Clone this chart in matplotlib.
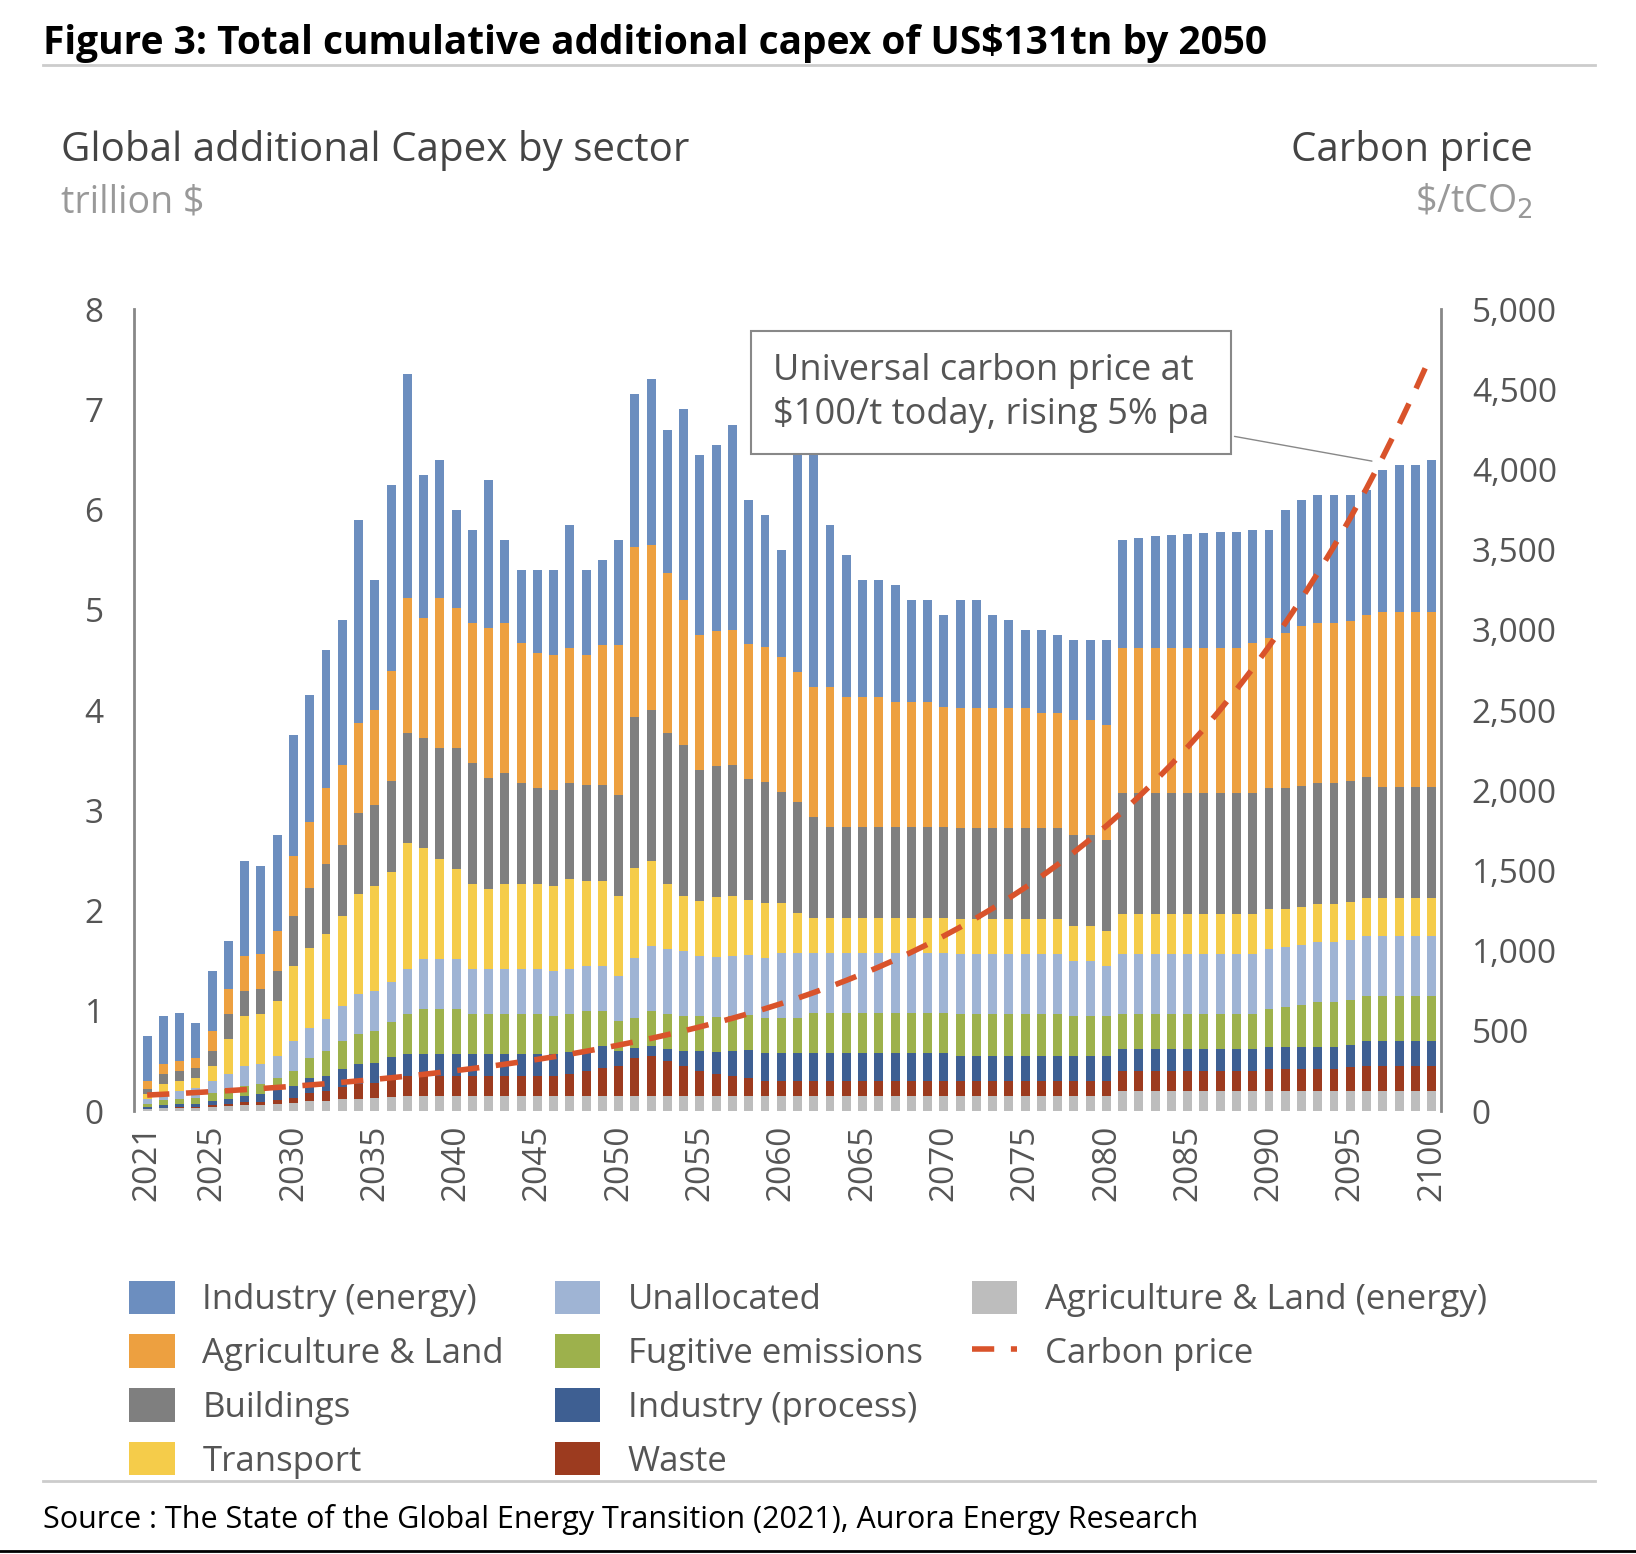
import matplotlib.pyplot as plt
import numpy as np

years = list(range(2021, 2101))

# sector values, trillion $
agri_energy = [0.02, 0.03, 0.03, 0.03, 0.04, 0.05, 0.06, 0.06, 0.07, 0.08,
               0.1, 0.1, 0.12, 0.12, 0.13, 0.14, 0.15, 0.15, 0.15, 0.15,
               0.15, 0.15, 0.15, 0.15, 0.15, 0.15, 0.15, 0.15, 0.15, 0.15,
               0.15, 0.15, 0.15, 0.15, 0.15, 0.15, 0.15, 0.15, 0.15, 0.15,
               0.15, 0.15, 0.15, 0.15, 0.15, 0.15, 0.15, 0.15, 0.15, 0.15,
               0.15, 0.15, 0.15, 0.15, 0.15, 0.15, 0.15, 0.15, 0.15, 0.15,
               0.2, 0.2, 0.2, 0.2, 0.2, 0.2, 0.2, 0.2, 0.2, 0.2,
               0.2, 0.2, 0.2, 0.2, 0.2, 0.2, 0.2, 0.2, 0.2, 0.2]
waste = [0.0, 0.0, 0.01, 0.01, 0.02, 0.02, 0.03, 0.03, 0.04, 0.05,
         0.08, 0.1, 0.12, 0.15, 0.15, 0.18, 0.2, 0.2, 0.2, 0.2,
         0.2, 0.2, 0.2, 0.2, 0.2, 0.2, 0.22, 0.25, 0.28, 0.3,
         0.38, 0.4, 0.35, 0.3, 0.25, 0.22, 0.2, 0.18, 0.15, 0.15,
         0.15, 0.15, 0.15, 0.15, 0.15, 0.15, 0.15, 0.15, 0.15, 0.15,
         0.15, 0.15, 0.15, 0.15, 0.15, 0.15, 0.15, 0.15, 0.15, 0.15,
         0.2, 0.2, 0.2, 0.2, 0.2, 0.2, 0.2, 0.2, 0.2, 0.22,
         0.22, 0.22, 0.22, 0.22, 0.24, 0.25, 0.25, 0.25, 0.25, 0.25]
ind_process = [0.02, 0.03, 0.03, 0.03, 0.04, 0.05, 0.06, 0.08, 0.1, 0.12,
               0.15, 0.15, 0.18, 0.2, 0.2, 0.22, 0.22, 0.22, 0.22, 0.22,
               0.22, 0.22, 0.22, 0.22, 0.22, 0.22, 0.22, 0.22, 0.22, 0.15,
               0.1, 0.1, 0.12, 0.15, 0.2, 0.22, 0.25, 0.28, 0.28, 0.28,
               0.28, 0.28, 0.28, 0.28, 0.28, 0.28, 0.28, 0.28, 0.28, 0.28,
               0.25, 0.25, 0.25, 0.25, 0.25, 0.25, 0.25, 0.25, 0.25, 0.25,
               0.22, 0.22, 0.22, 0.22, 0.22, 0.22, 0.22, 0.22, 0.22, 0.22,
               0.22, 0.22, 0.22, 0.22, 0.22, 0.25, 0.25, 0.25, 0.25, 0.25]
fugitive = [0.03, 0.05, 0.05, 0.06, 0.08, 0.1, 0.1, 0.1, 0.12, 0.15,
            0.2, 0.25, 0.28, 0.3, 0.32, 0.35, 0.4, 0.45, 0.45, 0.45,
            0.4, 0.4, 0.4, 0.4, 0.4, 0.38, 0.38, 0.38, 0.35, 0.3,
            0.3, 0.35, 0.35, 0.35, 0.35, 0.35, 0.35, 0.35, 0.35, 0.35,
            0.35, 0.4, 0.4, 0.4, 0.4, 0.4, 0.4, 0.4, 0.4, 0.4,
            0.42, 0.42, 0.42, 0.42, 0.42, 0.42, 0.42, 0.4, 0.4, 0.4,
            0.35, 0.35, 0.35, 0.35, 0.35, 0.35, 0.35, 0.35, 0.35, 0.38,
            0.4, 0.42, 0.45, 0.45, 0.45, 0.45, 0.45, 0.45, 0.45, 0.45]
unallocated = [0.05, 0.08, 0.08, 0.1, 0.12, 0.15, 0.2, 0.2, 0.22, 0.3,
               0.3, 0.32, 0.35, 0.4, 0.4, 0.4, 0.45, 0.5, 0.5, 0.5,
               0.45, 0.45, 0.45, 0.45, 0.45, 0.45, 0.45, 0.45, 0.45, 0.45,
               0.6, 0.65, 0.65, 0.65, 0.6, 0.6, 0.6, 0.6, 0.6, 0.65,
               0.65, 0.6, 0.6, 0.6, 0.6, 0.6, 0.6, 0.6, 0.6, 0.6,
               0.6, 0.6, 0.6, 0.6, 0.6, 0.6, 0.6, 0.55, 0.55, 0.5,
               0.6, 0.6, 0.6, 0.6, 0.6, 0.6, 0.6, 0.6, 0.6, 0.6,
               0.6, 0.6, 0.6, 0.6, 0.6, 0.6, 0.6, 0.6, 0.6, 0.6]
transport = [0.05, 0.08, 0.1, 0.1, 0.15, 0.35, 0.5, 0.5, 0.55, 0.75,
             0.8, 0.85, 0.9, 1.0, 1.05, 1.1, 1.25, 1.1, 1.0, 0.9,
             0.85, 0.8, 0.85, 0.85, 0.85, 0.85, 0.9, 0.85, 0.85, 0.8,
             0.9, 0.85, 0.65, 0.55, 0.55, 0.6, 0.6, 0.55, 0.55, 0.5,
             0.4, 0.35, 0.35, 0.35, 0.35, 0.35, 0.35, 0.35, 0.35, 0.35,
             0.35, 0.35, 0.35, 0.35, 0.35, 0.35, 0.35, 0.35, 0.35, 0.35,
             0.4, 0.4, 0.4, 0.4, 0.4, 0.4, 0.4, 0.4, 0.4, 0.4,
             0.38, 0.38, 0.38, 0.38, 0.38, 0.38, 0.38, 0.38, 0.38, 0.38]
buildings = [0.05, 0.1, 0.1, 0.1, 0.15, 0.25, 0.25, 0.25, 0.3, 0.5,
             0.6, 0.7, 0.7, 0.8, 0.8, 0.9, 1.1, 1.1, 1.1, 1.2,
             1.2, 1.1, 1.1, 1.0, 0.95, 0.95, 0.95, 0.95, 0.95, 1.0,
             1.5, 1.5, 1.5, 1.5, 1.3, 1.3, 1.3, 1.2, 1.2, 1.1,
             1.1, 1.0, 0.9, 0.9, 0.9, 0.9, 0.9, 0.9, 0.9, 0.9,
             0.9, 0.9, 0.9, 0.9, 0.9, 0.9, 0.9, 0.9, 0.9, 0.9,
             1.2, 1.2, 1.2, 1.2, 1.2, 1.2, 1.2, 1.2, 1.2, 1.2,
             1.2, 1.2, 1.2, 1.2, 1.2, 1.2, 1.1, 1.1, 1.1, 1.1]
agri_land = [0.08, 0.1, 0.1, 0.1, 0.2, 0.25, 0.35, 0.35, 0.4, 0.6,
             0.65, 0.75, 0.8, 0.9, 0.95, 1.1, 1.35, 1.2, 1.5, 1.4,
             1.4, 1.5, 1.5, 1.4, 1.35, 1.35, 1.35, 1.3, 1.4, 1.5,
             1.7, 1.65, 1.6, 1.45, 1.35, 1.35, 1.35, 1.35, 1.35, 1.35,
             1.3, 1.3, 1.4, 1.3, 1.3, 1.3, 1.25, 1.25, 1.25, 1.2,
             1.2, 1.2, 1.2, 1.2, 1.2, 1.15, 1.15, 1.15, 1.15, 1.15,
             1.45, 1.45, 1.45, 1.45, 1.45, 1.45, 1.45, 1.45, 1.5, 1.5,
             1.55, 1.6, 1.6, 1.6, 1.6, 1.62, 1.75, 1.75, 1.75, 1.75]
total = [0.75, 0.95, 0.98, 0.88, 1.4, 1.7, 2.5, 2.45, 2.75, 3.75,
         4.15, 4.6, 4.9, 5.9, 5.3, 6.25, 7.35, 6.35, 6.5, 6.0,
         5.8, 6.3, 5.7, 5.4, 5.4, 5.4, 5.85, 5.4, 5.5, 5.7,
         7.15, 7.3, 6.8, 7.0, 6.55, 6.65, 6.85, 6.1, 5.95, 5.6,
         6.85, 6.55, 5.85, 5.55, 5.3, 5.3, 5.25, 5.1, 5.1, 4.95,
         5.1, 5.1, 4.95, 4.9, 4.8, 4.8, 4.75, 4.7, 4.7, 4.7,
         5.7, 5.72, 5.74, 5.75, 5.76, 5.77, 5.78, 5.78, 5.8, 5.8,
         6.0, 6.1, 6.15, 6.15, 6.15, 6.2, 6.4, 6.45, 6.45, 6.5]

stack_names = ['Agriculture & Land (energy)', 'Waste', 'Industry (process)', 'Fugitive emissions',
               'Unallocated', 'Transport', 'Buildings', 'Agriculture & Land']
stack_vals = [agri_energy, waste, ind_process, fugitive, unallocated, transport, buildings, agri_land]
colors = {'Industry (energy)': '#6c8ebf', 'Agriculture & Land': '#eda040', 'Buildings': '#7f7f7f',
          'Transport': '#f5cc4a', 'Unallocated': '#9fb4d4', 'Fugitive emissions': '#9db14c',
          'Industry (process)': '#3e5f92', 'Waste': '#9c3b1f', 'Agriculture & Land (energy)': '#bdbdbd'}

plt.rcParams['font.family'] = ['Open Sans', 'DejaVu Sans']
fig = plt.figure(figsize=(16.36, 15.54), dpi=100)
ax = fig.add_axes([0.082, 0.285, 0.799, 0.516])

x = np.array(years)
bottom = np.zeros(len(years))
handles = {}
for name, vals in zip(stack_names, stack_vals):
    v = np.array(vals)
    handles[name] = ax.bar(x, v, 0.55, bottom=bottom, color=colors[name], label=name)
    bottom += v
ind_energy = np.array(total) - bottom
handles['Industry (energy)'] = ax.bar(x, ind_energy, 0.55, bottom=bottom, color=colors['Industry (energy)'])

ax.set_ylim(0, 8)
ax.set_xlim(2020.2, 2100.6)
ax.set_yticks(range(9))
ax.set_xticks([2021] + list(range(2025, 2101, 5)))
ax.tick_params(axis='x', rotation=90, labelsize=24, colors='#555555', length=0, pad=10)
ax.tick_params(axis='y', labelsize=24, colors='#555555', length=0, pad=22)
for s in ['top', 'right', 'bottom']:
    ax.spines[s].set_visible(False)
ax.spines['left'].set_color('#888888')
ax.spines['left'].set_linewidth(2)

# carbon price: $100/t in 2021 rising 5% pa
carbon = [100 * 1.05 ** (y - 2021) for y in years]
ax2 = ax.twinx()
ax2.set_ylim(0, 5000)
ax2.set_yticks(range(0, 5001, 500))
ax2.set_yticklabels([f'{v:,}' for v in range(0, 5001, 500)])
ax2.tick_params(axis='y', labelsize=24, colors='#555555', length=0, pad=22)
line, = ax2.plot(x, carbon, color='#d9532b', lw=4, dashes=(4, 3))
for s in ['top', 'left', 'bottom']:
    ax2.spines[s].set_visible(False)
ax2.spines['right'].set_color('#888888')
ax2.spines['right'].set_linewidth(2)

ax2.annotate('Universal carbon price at\n$100/t today, rising 5% pa', xy=(2096.5, 4050), xytext=(2059.5, 4480),
             fontsize=26, color='#555555', va='center', linespacing=1.3,
             bbox=dict(boxstyle='square,pad=0.6', fc='white', ec='#888888', lw=1.5),
             arrowprops=dict(arrowstyle='-', color='#888888', lw=1))

fig.text(0.026, 0.972, 'Figure 3: Total cumulative additional capex of US$131tn by 2050',
         fontsize=28, fontweight='bold', va='center')
fig.add_artist(plt.Line2D([0.026, 0.975], [0.958, 0.958], color='#cccccc', lw=2))
fig.text(0.037, 0.903, 'Global additional Capex by sector', fontsize=29, color='#444444', va='center')
fig.text(0.037, 0.870, 'trillion $', fontsize=27, color='#999999', va='center')
fig.text(0.937, 0.903, 'Carbon price', fontsize=29, color='#444444', va='center', ha='right')
fig.text(0.937, 0.870, r'\$/tCO$_2$', fontsize=27, color='#999999', va='center', ha='right')

cols = [['Industry (energy)', 'Agriculture & Land', 'Buildings', 'Transport'],
        ['Unallocated', 'Fugitive emissions', 'Industry (process)', 'Waste'],
        ['Agriculture & Land (energy)', 'Carbon price']]
handles['Carbon price'] = line
for xpos, names in zip([0.06, 0.32, 0.575], cols):
    fig.legend([handles[n] for n in names], names, loc='upper left', bbox_to_anchor=(xpos, 0.196),
               frameon=False, fontsize=25, labelcolor='#555555', handlelength=1.3,
               handleheight=1.1, labelspacing=0.5)

fig.add_artist(plt.Line2D([0.026, 0.975], [0.047, 0.047], color='#cccccc', lw=2))
fig.text(0.026, 0.022, 'Source : The State of the Global Energy Transition (2021), Aurora Energy Research',
         fontsize=22, va='center')
fig.add_artist(plt.Line2D([0, 1], [0.002, 0.002], color='black', lw=2))
fig.savefig('out.png')
